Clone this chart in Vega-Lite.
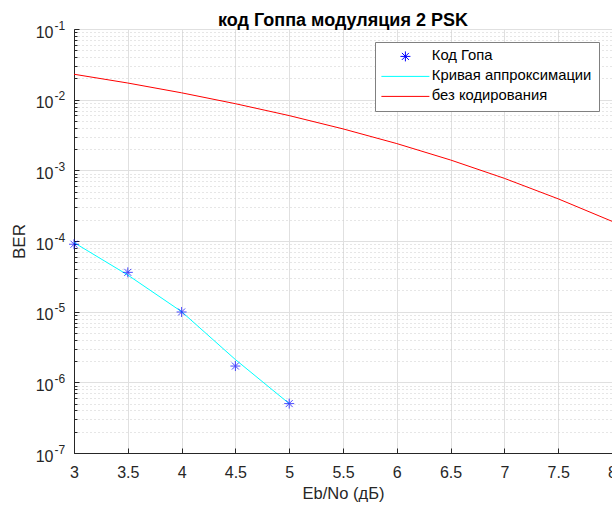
{
  "$schema": "https://vega.github.io/schema/vega-lite/v6.json",
  "width": 538,
  "height": 424,
  "autosize": "none",
  "padding": {"left": 74, "top": 29, "right": 0, "bottom": 53},
  "background": "white",
  "title": {
    "text": "код Гоппа модуляция 2 PSK",
    "font": "Liberation Sans",
    "fontSize": 18,
    "fontWeight": "bold",
    "color": "#000000",
    "anchor": "middle",
    "frame": "group",
    "offset": 1,
    "dy": 12
  },
  "datasets": {
    "curves": [
      {"ebno": 3.0, "ber": 0.000095, "series": "Кривая аппроксимации"},
      {"ebno": 3.5, "ber": 0.000033, "series": "Кривая аппроксимации"},
      {"ebno": 4.0, "ber": 0.0000100, "series": "Кривая аппроксимации"},
      {"ebno": 4.5, "ber": 0.0000021, "series": "Кривая аппроксимации"},
      {"ebno": 5.0, "ber": 0.0000005, "series": "Кривая аппроксимации"},
      {"ebno": 3.0, "ber": 0.0229, "series": "без кодирования"},
      {"ebno": 3.5, "ber": 0.0172, "series": "без кодирования"},
      {"ebno": 4.0, "ber": 0.0125, "series": "без кодирования"},
      {"ebno": 4.5, "ber": 0.00877, "series": "без кодирования"},
      {"ebno": 5.0, "ber": 0.00595, "series": "без кодирования"},
      {"ebno": 5.5, "ber": 0.00386, "series": "без кодирования"},
      {"ebno": 6.0, "ber": 0.00239, "series": "без кодирования"},
      {"ebno": 6.5, "ber": 0.0014, "series": "без кодирования"},
      {"ebno": 7.0, "ber": 0.00077, "series": "без кодирования"},
      {"ebno": 7.5, "ber": 0.000395, "series": "без кодирования"},
      {"ebno": 8.0, "ber": 0.00019, "series": "без кодирования"}
    ],
    "goppa": [
      {"ebno": 3.0, "ber": 0.00009, "series": "Код Гопа"},
      {"ebno": 3.5, "ber": 0.000036, "series": "Код Гопа"},
      {"ebno": 4.0, "ber": 0.0000099, "series": "Код Гопа"},
      {"ebno": 4.5, "ber": 0.0000017, "series": "Код Гопа"},
      {"ebno": 5.0, "ber": 0.0000005, "series": "Код Гопа"}
    ]
  },
  "layer": [
    {
      "data": {"name": "curves"},
      "mark": {"type": "line", "strokeWidth": 1},
      "encoding": {
        "x": {"field": "ebno", "type": "quantitative"},
        "color": {"field": "series", "type": "nominal"},
        "order": {"field": "ebno"}
      }
    },
    {
      "data": {"name": "goppa"},
      "mark": {"type": "point", "filled": false, "size": 100, "strokeWidth": 1},
      "encoding": {
        "x": {"field": "ebno", "type": "quantitative"},
        "y": {
          "field": "ber",
          "type": "quantitative",
          "scale": {"type": "log", "domain": [1e-7, 0.1], "nice": false},
          "axis": {
            "orient": "left",
            "title": null,
            "values": [1e-7, 1e-6, 1e-5, 1e-4, 1e-3, 1e-2, 0.1],
            "labelExpr": "'-' + (-round(log(datum.value)/LN10))",
            "grid": false,
            "ticks": false,
            "tickSize": 0,
            "domain": false,
            "labelFont": "Liberation Sans",
            "labelFontSize": 12,
            "labelColor": "#262626",
            "labelAlign": "left",
            "labelBaseline": "middle",
            "labelPadding": 20,
            "labelOffset": -4,
            "labelOverlap": false,
            "labelFlush": false
          }
        },
        "color": {"field": "series", "type": "nominal"},
        "shape": {"field": "series", "type": "nominal"}
      }
    }
  ],
  "resolve": {"scale": {"color": "shared", "y": "shared"}, "axis": {"y": "independent"}},
  "encoding": {
    "x": {
      "field": "ebno",
      "type": "quantitative",
      "scale": {"domain": [3, 8], "nice": false, "zero": false},
      "axis": {
        "title": "Eb/No (дБ)",
        "values": [3, 3.5, 4, 4.5, 5, 5.5, 6, 6.5, 7, 7.5, 8],
        "format": "~g",
        "grid": true,
        "gridColor": "#e0e0e0",
        "gridWidth": 1,
        "domainColor": "#262626",
        "tickColor": "#262626",
        "tickSize": -5,
        "labelFont": "Liberation Sans",
        "labelFontSize": 16,
        "labelColor": "#262626",
        "labelBaseline": "alphabetic",
        "labelPadding": 29,
        "labelFlush": false,
        "labelOverlap": false,
        "titleFont": "Liberation Sans",
        "titleFontSize": 16.5,
        "titleFontWeight": "normal",
        "titleColor": "#262626",
        "titleBaseline": "alphabetic",
        "titleY": 45
      }
    },
    "y": {
      "field": "ber",
      "type": "quantitative",
      "scale": {"type": "log", "domain": [1e-7, 0.1], "nice": false},
      "axis": {
        "orient": "left",
        "title": "BER",
        "values": [1e-7, 2e-7, 3e-7, 4e-7, 5e-7, 6e-7, 7e-7, 8e-7, 9e-7,
                   1e-6, 2e-6, 3e-6, 4e-6, 5e-6, 6e-6, 7e-6, 8e-6, 9e-6,
                   1e-5, 2e-5, 3e-5, 4e-5, 5e-5, 6e-5, 7e-5, 8e-5, 9e-5,
                   1e-4, 2e-4, 3e-4, 4e-4, 5e-4, 6e-4, 7e-4, 8e-4, 9e-4,
                   1e-3, 2e-3, 3e-3, 4e-3, 5e-3, 6e-3, 7e-3, 8e-3, 9e-3,
                   1e-2, 2e-2, 3e-2, 4e-2, 5e-2, 6e-2, 7e-2, 8e-2, 9e-2, 0.1],
        "labelExpr": "abs(log(datum.value)/LN10 - round(log(datum.value)/LN10)) < 0.001 ? '10' : ''",
        "grid": true,
        "gridColor": {"condition": {"test": "abs(log(datum.value)/LN10 - round(log(datum.value)/LN10)) > 0.001", "value": "#cccccc"}, "value": "#e0e0e0"},
        "gridDash": {"condition": {"test": "abs(log(datum.value)/LN10 - round(log(datum.value)/LN10)) > 0.001", "value": [1, 3]}, "value": []},
        "gridWidth": 1,
        "tickSize": {"condition": {"test": "abs(log(datum.value)/LN10 - round(log(datum.value)/LN10)) > 0.001", "value": -3}, "value": -5},
        "domainColor": "#262626",
        "tickColor": "#262626",
        "labelFont": "Liberation Sans",
        "labelFontSize": 16,
        "labelColor": "#262626",
        "labelBaseline": "middle",
        "labelPadding": 26,
        "labelOffset": 3,
        "labelOverlap": false,
        "labelFlush": false,
        "titleFont": "Liberation Sans",
        "titleFontSize": 17,
        "titleFontWeight": "normal",
        "titleColor": "#262626",
        "titleX": -46,
        "titleY": 212,
        "titleBaseline": "bottom"
      }
    },
    "color": {
      "field": "series",
      "type": "nominal",
      "scale": {
        "domain": ["Код Гопа", "Кривая аппроксимации", "без кодирования"],
        "range": ["#0000ff", "#00ffff", "#ff0000"]
      },
      "legend": {
        "title": null,
        "orient": "none",
        "legendX": 301,
        "legendY": 13,
        "fillColor": "#ffffff",
        "strokeColor": "#808080",
        "padding": 7,
        "symbolSize": 100,
        "symbolStrokeWidth": 1,
        "symbolOffset": 16,
        "labelOffset": 19,
        "labelFont": "Liberation Sans",
        "labelFontSize": 14.8,
        "labelColor": "#000000",
        "rowPadding": 4
      }
    },
    "shape": {
      "field": "series",
      "type": "nominal",
      "scale": {
        "domain": ["Код Гопа", "Кривая аппроксимации", "без кодирования"],
        "range": [
          "M-1,0L1,0M0,-1L0,1M-0.7,-0.7L0.7,0.7M-0.7,0.7L0.7,-0.7",
          "M-4.8,0L4.8,0",
          "M-4.8,0L4.8,0"
        ]
      },
      "legend": {
        "title": null,
        "orient": "none",
        "legendX": 301,
        "legendY": 13,
        "fillColor": "#ffffff",
        "strokeColor": "#808080",
        "padding": 7,
        "symbolSize": 100,
        "symbolStrokeWidth": 1,
        "symbolOffset": 16,
        "labelOffset": 19,
        "labelFont": "Liberation Sans",
        "labelFontSize": 14.8,
        "labelColor": "#000000",
        "rowPadding": 4
      }
    }
  },
  "config": {
    "view": {"stroke": "#262626", "strokeWidth": 1}
  }
}
